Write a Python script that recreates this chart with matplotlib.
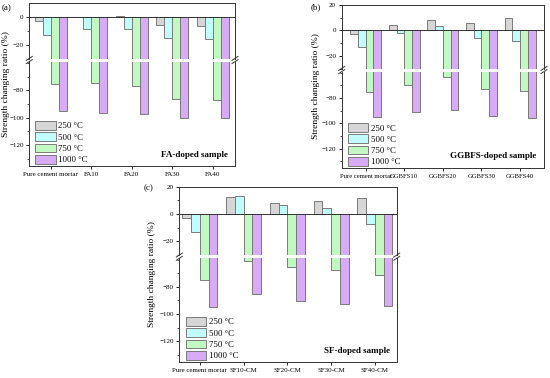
import matplotlib
matplotlib.use("Agg")
import matplotlib.pyplot as plt
import numpy as np
from matplotlib.lines import Line2D
from matplotlib.ticker import MultipleLocator

plt.rcParams['font.family'] = ['Liberation Serif', 'DejaVu Serif']

temps = ["250 °C", "500 °C", "750 °C", "1000 °C"]
colors = ["#d6d6d6", "#c2fdfd", "#c2f9c2", "#d8abf6"]
edge = "#7a7a7a"

# panel (a) FA
fa_groups = ["Pure cement mortar", "FA10", "FA20", "FA30", "FA40"]
fa_250 = [-2.9, -0.4, 0.4, -6.0, -6.5]
fa_500 = [-13.5, -9.2, -8.7, -15.0, -15.7]
fa_750 = [-75.5, -75.0, -77.0, -86.2, -87.0]
fa_1000 = [-95.0, -96.7, -97.1, -100.0, -100.0]

# panel (b) GGBFS
gg_groups = ["Pure cement mortar", "GGBFS10", "GGBFS20", "GGBFS30", "GGBFS40"]
gg_250 = [-2.9, 4.5, 8.4, 6.0, 10.0]
gg_500 = [-13.4, -2.0, 3.7, -6.0, -8.7]
gg_750 = [-75.0, -70.0, -63.6, -72.5, -74.8]
gg_1000 = [-94.8, -91.0, -89.6, -94.3, -96.0]

# panel (c) SF
sf_groups = ["Pure cement mortar", "SF10-CM", "SF20-CM", "SF30-CM", "SF40-CM"]
sf_250 = [-2.7, 12.5, 7.7, 9.4, 11.6]
sf_500 = [-13.3, 13.3, 6.3, 4.6, -7.0]
sf_750 = [-74.9, -60.8, -65.2, -67.4, -71.0]
sf_1000 = [-94.5, -85.6, -90.4, -92.8, -94.3]

W, H = 550, 378
fig = plt.figure(figsize=(5.5, 3.78), dpi=100)


def frac(x0, y0, x1, y1):
    return [x0 / W, 1 - y1 / H, (x1 - x0) / W, (y1 - y0) / H]


def slash(x, y):
    for dy in (-1.6, 1.6):
        fig.add_artist(Line2D([(x - 3) / W, (x + 3) / W],
                              [1 - (y + dy + 2) / H, 1 - (y + dy - 2) / H],
                              color="#333333", lw=0.7))


def panel(box, brk, groups, series, top, tag, tag_pos, ylab_x, name, name_xy, xlim,
          xfs=5):
    x0, y0, x1, y1 = box
    gap = 1.5
    ax_up = fig.add_axes(frac(x0, y0, x1, brk - gap))
    ax_lo = fig.add_axes(frac(x0, brk + gap, x1, y1))
    xs = np.arange(len(groups))
    handles = []
    for ax in (ax_up, ax_lo):
        for i, vals in enumerate(series):
            b = ax.bar(xs + (i - 1.5) * 0.2, vals, width=0.2, color=colors[i],
                       edgecolor=edge, linewidth=0.7, label=temps[i])
            if ax is ax_lo:
                handles.append(b)
        ax.set_xlim(*xlim)
        ax.yaxis.set_minor_locator(MultipleLocator(10))
        ax.tick_params(axis='y', which='major', direction='out', length=2.5,
                       width=0.6, labelsize=5, pad=1.5)
        ax.tick_params(axis='y', which='minor', direction='out', length=1.3, width=0.5)
        for s in ax.spines.values():
            s.set_linewidth(0.7)
            s.set_color("#333333")
    ax_up.set_ylim(-30, top)
    ax_up.set_yticks([v for v in (20, 0, -20) if v <= top])
    ax_up.spines['bottom'].set_visible(False)
    ax_up.set_xticks([])
    ax_up.axhline(0, color="#333333", lw=0.7)
    ax_lo.set_ylim(-135, -59)
    ax_lo.set_yticks([-80, -100, -120])
    ax_lo.spines['top'].set_visible(False)
    ax_lo.set_xticks(xs)
    ax_lo.set_xticklabels(groups, fontsize=xfs)
    ax_lo.tick_params(axis='x', direction='out', length=2.5, width=0.6, pad=2)

    slash(x0, brk)
    slash(x1, brk)

    ax_lo.legend(handles=handles, loc='lower left', bbox_to_anchor=(0.03, 0.015),
                 frameon=False, fontsize=6.3, handlelength=2.3, handleheight=1.15,
                 labelspacing=0.22, handletextpad=0.3, borderpad=0, borderaxespad=0)
    ax_lo.text(name_xy[0], name_xy[1], name, transform=ax_lo.transAxes, ha='right',
               va='center', fontsize=6.5, fontweight='bold')
    fig.text(tag_pos[0] / W, 1 - tag_pos[1] / H, tag, fontsize=6.5, ha='left', va='center')
    fig.text(ylab_x / W, 1 - ((y0 + y1) / 2) / H, "Strength changing ratio (%)",
             rotation=90, fontsize=6.8, ha='center', va='center')


panel((29.3, 3, 235, 165.7), 60, fa_groups, [fa_250, fa_500, fa_750, fa_1000], 9.8,
      "(a)", (2, 8), 6, "FA-doped sample", (0.966, 0.10), (-0.53, 4.55))
panel((341.7, 5, 544, 167.7), 70, gg_groups, [gg_250, gg_500, gg_750, gg_1000], 20,
      "(b)", (311, 7), 316, "GGBFS-doped sample", (0.964, 0.125), (-0.62, 4.62), xfs=4.8)
panel((179.3, 186.5, 396.7, 361.7), 256.7, sf_groups, [sf_250, sf_500, sf_750, sf_1000], 20,
      "(c)", (144, 188), 152, "SF-doped sample", (0.969, 0.106), (-0.47, 4.5))

fig.savefig("out.png", dpi=100)
